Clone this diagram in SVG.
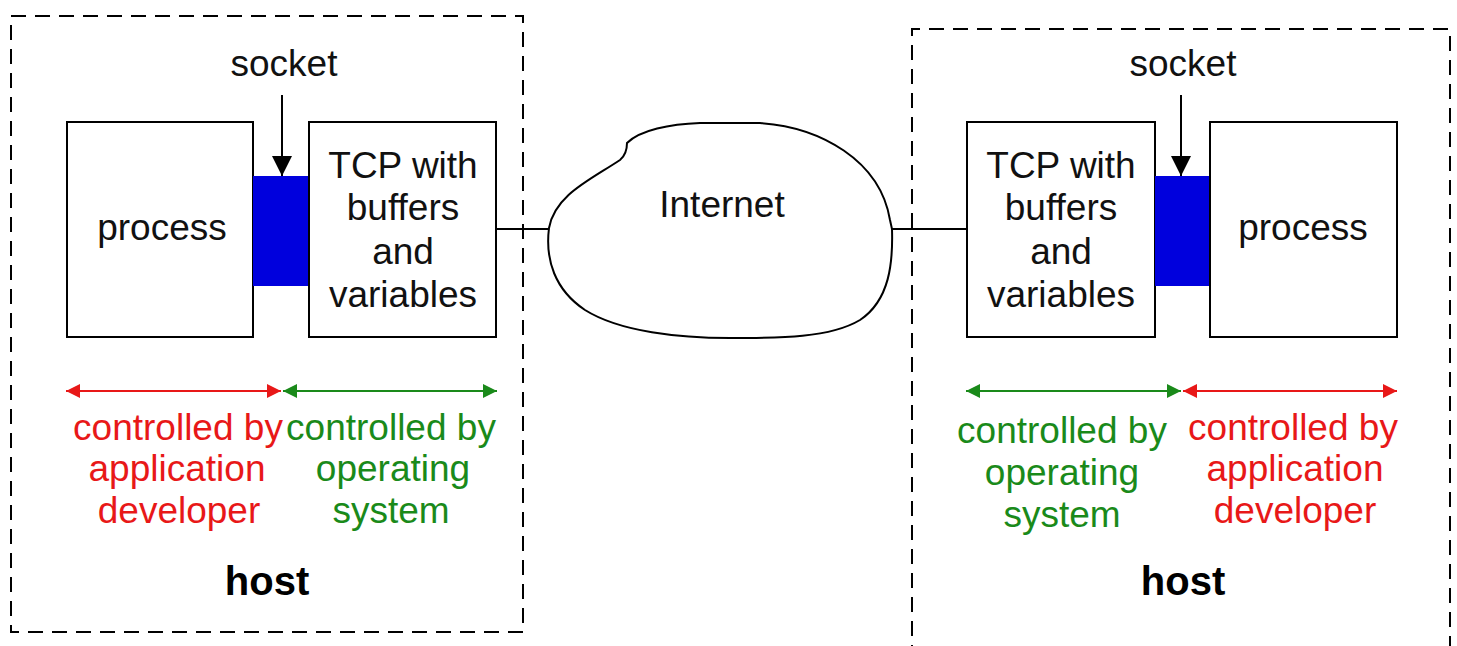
<svg xmlns="http://www.w3.org/2000/svg" width="1457" height="646" viewBox="0 0 1457 646">
<style>
  .box{fill:#fff;stroke:#000;stroke-width:2}
  .host{fill:none;stroke:#000;stroke-width:2;stroke-dasharray:15 9}
  .sock{fill:#0000dd;stroke:none}
  .t{font-family:"Liberation Sans",Arial,sans-serif;font-size:37px;text-anchor:middle;fill:#111}
  .red{fill:#e81818}
  .grn{fill:#1a8a1a}
  .hb{font-family:"Liberation Sans",Arial,sans-serif;font-size:40px;font-weight:bold;text-anchor:middle;fill:#000}
  .ln{stroke:#000;stroke-width:2;fill:none}
  .rl{stroke:#e81818;stroke-width:2}
  .gl{stroke:#1a8a1a;stroke-width:2}
</style>
<defs>
  <marker id="ak" viewBox="0 0 10 10" refX="10" refY="5" markerWidth="20" markerHeight="20" markerUnits="userSpaceOnUse" orient="auto"><path d="M0,0 L10,5 L0,10 Z" fill="#000"/></marker>
  <marker id="ar" viewBox="0 0 10 10" refX="10" refY="5" markerWidth="16" markerHeight="14" markerUnits="userSpaceOnUse" orient="auto-start-reverse"><path d="M0,0 L10,5 L0,10 Z" fill="#e81818"/></marker>
  <marker id="ag" viewBox="0 0 10 10" refX="10" refY="5" markerWidth="16" markerHeight="14" markerUnits="userSpaceOnUse" orient="auto-start-reverse"><path d="M0,0 L10,5 L0,10 Z" fill="#1a8a1a"/></marker>
</defs>
<rect width="1457" height="646" fill="#fff"/>

<g id="host-left">
  <rect class="host" x="11" y="16" width="512" height="616"/>
  <text class="hb" x="267" y="595">host</text>
</g>
<g id="host-right">
  <path class="host" d="M912,660 L912,29 L1450,29 L1450,660"/>
  <text class="hb" x="1183" y="595">host</text>
</g>

<g id="process-left">
  <rect class="box" x="67" y="122" width="186" height="215"/>
  <text class="t" x="162" y="240">process</text>
</g>
<g id="socket-left">
  <rect class="sock" x="253" y="176" width="56" height="110"/>
  <text class="t" x="284" y="76">socket</text>
</g>
<g id="tcp-left">
  <rect class="box" x="309" y="122" width="187" height="215"/>
  <text class="t" x="403" y="178">TCP with</text>
  <text class="t" x="403" y="220">buffers</text>
  <text class="t" x="403" y="264">and</text>
  <text class="t" x="403" y="307">variables</text>
</g>

<g id="internet">
  <path class="ln" d="M627,143 C640,130 670,124 700,123 L760,123 C820,127 880,160 890,220 L892,229 C893,262 890,300 860,320 C830,338 780,338 730,338 C680,338 620,332 585,310 C555,290 545,260 549,228 C555,195 590,180 620,160 C626,155 627,148 627,143 Z" fill="#fff"/>
  <text class="t" x="722" y="217">Internet</text>
</g>

<g id="tcp-right">
  <rect class="box" x="967" y="122" width="188" height="215"/>
  <text class="t" x="1061" y="178">TCP with</text>
  <text class="t" x="1061" y="220">buffers</text>
  <text class="t" x="1061" y="264">and</text>
  <text class="t" x="1061" y="307">variables</text>
</g>
<g id="socket-right">
  <rect class="sock" x="1155" y="176" width="55" height="110"/>
  <text class="t" x="1183" y="76">socket</text>
</g>
<g id="process-right">
  <rect class="box" x="1210" y="122" width="187" height="215"/>
  <text class="t" x="1303" y="240">process</text>
</g>

<g id="labels">
  <text class="t red" x="178" y="440">controlled by</text>
  <text class="t red" x="177" y="481">application</text>
  <text class="t red" x="179" y="523">developer</text>
  <text class="t grn" x="391" y="440">controlled by</text>
  <text class="t grn" x="393" y="481">operating</text>
  <text class="t grn" x="391" y="523">system</text>
  <text class="t grn" x="1062" y="443">controlled by</text>
  <text class="t grn" x="1062" y="485">operating</text>
  <text class="t grn" x="1062" y="527">system</text>
  <text class="t red" x="1293" y="440">controlled by</text>
  <text class="t red" x="1295" y="481">application</text>
  <text class="t red" x="1295" y="523">developer</text>
</g>

<g id="connectors">
  <line class="ln" x1="282" y1="95" x2="282" y2="176" marker-end="url(#ak)"/>
  <line class="ln" x1="1181" y1="95" x2="1181" y2="176" marker-end="url(#ak)"/>
  <line class="ln" x1="496" y1="229" x2="549" y2="229"/>
  <line class="ln" x1="892" y1="229" x2="967" y2="229"/>
  <line class="rl" x1="66" y1="391" x2="281" y2="391" marker-start="url(#ar)" marker-end="url(#ar)"/>
  <line class="gl" x1="283" y1="391" x2="497" y2="391" marker-start="url(#ag)" marker-end="url(#ag)"/>
  <line class="gl" x1="966" y1="391" x2="1181" y2="391" marker-start="url(#ag)" marker-end="url(#ag)"/>
  <line class="rl" x1="1183" y1="391" x2="1397" y2="391" marker-start="url(#ar)" marker-end="url(#ar)"/>
</g>
</svg>
